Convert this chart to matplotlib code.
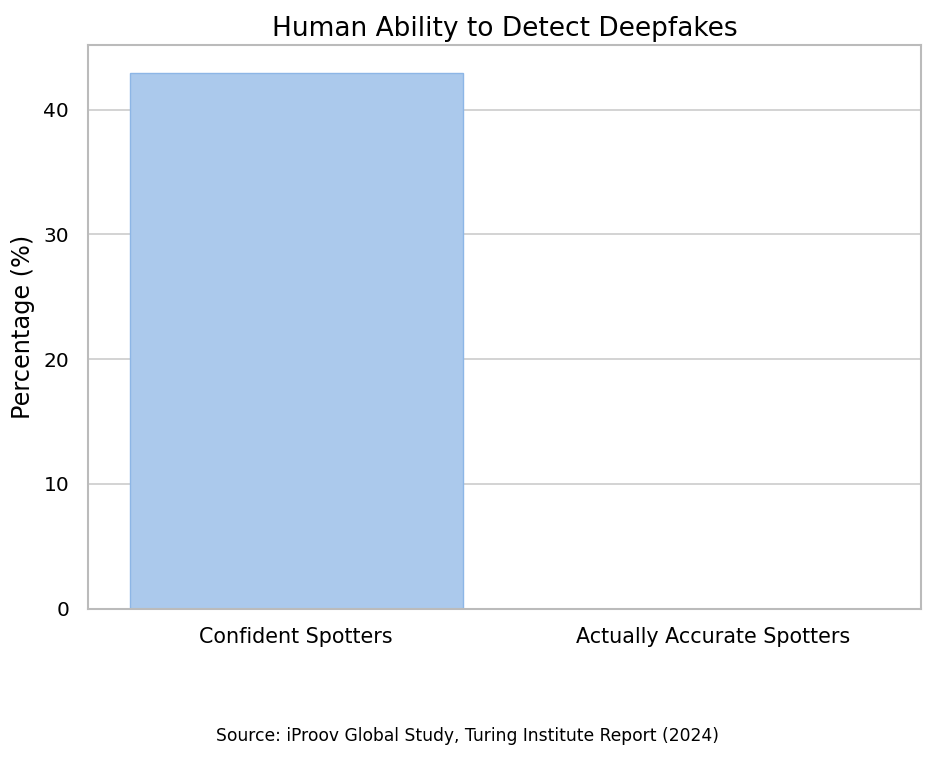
import matplotlib
matplotlib.use("Agg")
import matplotlib.pyplot as plt
import seaborn as sns

categories = ["Confident Spotters", "Actually Accurate Spotters"]
percentages = [42.9, 0]

sns.set_style("whitegrid")
plt.rcParams['font.family'] = ['DejaVu Sans']
plt.rcParams['text.color'] = 'black'
plt.rcParams['axes.labelcolor'] = 'black'
plt.rcParams['xtick.color'] = 'black'
plt.rcParams['ytick.color'] = 'black'

fig = plt.figure(figsize=(9.36, 7.58), dpi=100)
ax = fig.add_axes([0.094, 0.197, 0.890, 0.744])

ax.bar(range(len(categories)), percentages, width=0.8,
       color="#abc9ec", edgecolor="#8db6e6", linewidth=1, zorder=2)
ax.set_xticks(range(len(categories)))
ax.set_xticklabels(categories, fontsize=14.9)
ax.tick_params(axis="x", pad=10)
ax.tick_params(axis="y", labelsize=14.5, pad=10)
ax.set_xlim(-0.5, 1.5)
ax.set_ylim(0, 45.2)
ax.set_ylabel("Percentage (%)", fontsize=17.3, labelpad=6)
ax.set_title("Human Ability to Detect Deepfakes", fontsize=19, pad=6)
ax.grid(axis="x", visible=False)
ax.grid(axis="y", color="#cccccc", linewidth=1.2)
for sp in ax.spines.values():
    sp.set_color("#bbbbbb")
    sp.set_linewidth(1.5)

fig.text(0.5, 0.022, "Source: iProov Global Study, Turing Institute Report (2024)",
         ha="center", fontsize=12.3)

fig.savefig("out.png", dpi=100)
